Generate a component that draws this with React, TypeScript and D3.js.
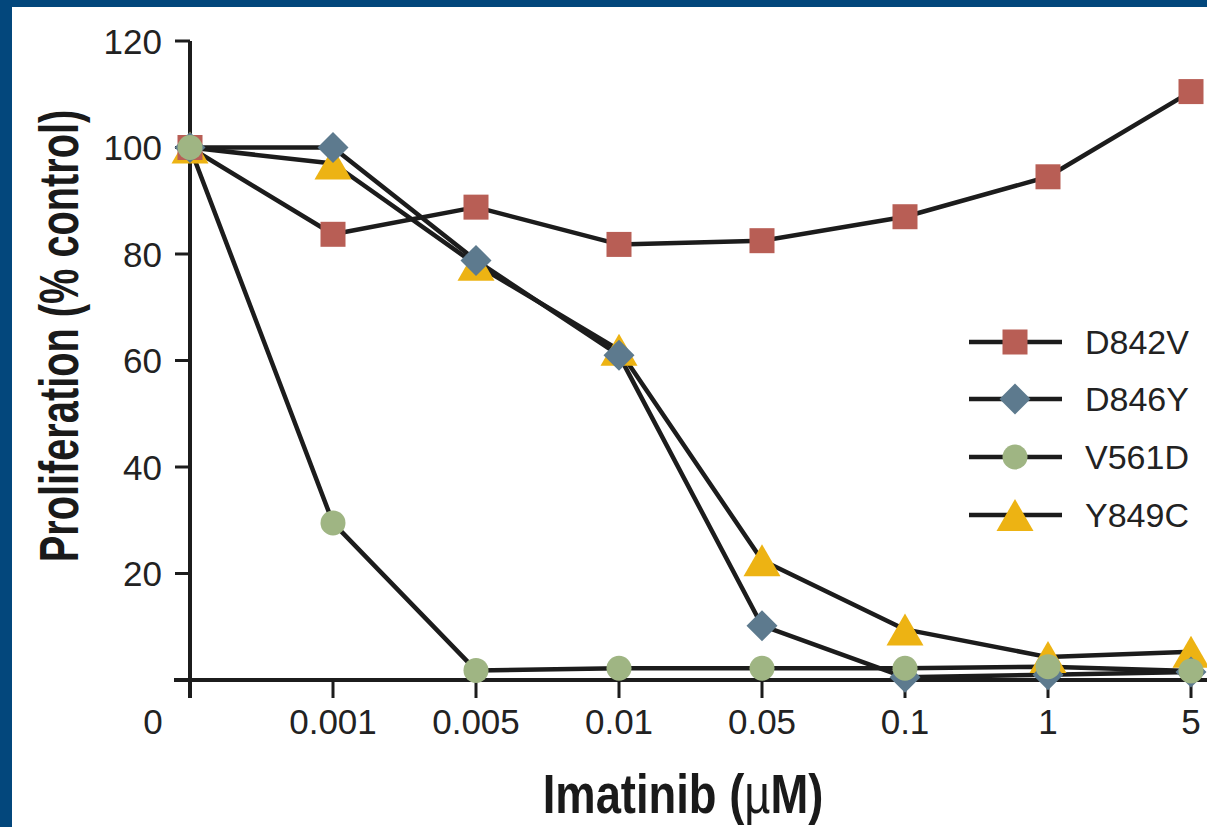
import React from "react";
import * as d3 from "d3";

const categories = ["0", "0.001", "0.005", "0.01", "0.05", "0.1", "1", "5"];
const yTicks = [20, 40, 60, 80, 100, 120];
const D842V = [100, 83.7, 88.8, 81.8, 82.5, 87, 94.5, 110.5];
const D846Y = [100, 100, 78.8, 61, 10.2, 0.5, 1, 1.5];
const V561D = [100, 29.5, 1.8, 2.2, 2.2, 2.2, 2.5, 1.7];
const Y849C = [100, 97, 78, 62, 22.5, 9.5, 4.3, 5.3];

const seriesNames = ["D842V", "D846Y", "V561D", "Y849C"];
const colors: Record<string, string> = {
  D842V: "#B85E55",
  D846Y: "#5D7A8E",
  V561D: "#9FB583",
  Y849C: "#EDB313",
};
const shapes: Record<string, string> = {
  D842V: "square",
  D846Y: "diamond",
  V561D: "circle",
  Y849C: "triangle",
};
const dataMap: Record<string, number[]> = { D842V, D846Y, V561D, Y849C };
const drawOrder = ["Y849C", "D842V", "D846Y", "V561D"];

const W = 1207;
const H = 827;
const FONT = "'Liberation Sans', Arial, Helvetica, sans-serif";
const INK = "#1c1c1c";

function Marker({ shape, x, y, color }: { shape: string; x: number; y: number; color: string }) {
  if (shape === "square") {
    return <rect x={x - 12.5} y={y - 12.5} width={25} height={25} fill={color} />;
  }
  if (shape === "diamond") {
    const r = 15.5;
    return <path d={`M${x},${y - r}L${x + r},${y}L${x},${y + r}L${x - r},${y}Z`} fill={color} />;
  }
  if (shape === "circle") {
    return <circle cx={x} cy={y} r={12.5} fill={color} />;
  }
  const hw = 18.5;
  const hh = 16;
  return <path d={`M${x},${y - hh}L${x + hw},${y + hh}L${x - hw},${y + hh}Z`} fill={color} />;
}

export default function App() {
  const x = d3.scalePoint<string>().domain(categories).range([190, 1191]);
  const y = d3.scaleLinear().domain([0, 120]).range([680, 41]);
  const line = d3
    .line<number>()
    .x((_, i) => x(categories[i]) as number)
    .y((d) => y(d));

  const legendY = [342, 399, 457, 515];

  return (
    <svg
      width={W}
      height={H}
      style={{ position: "absolute", left: 0, top: 0, display: "block" }}
      fontFamily={FONT}
    >
      <rect x={0} y={0} width={W} height={H} fill="#03477C" />
      <rect x={12} y={7} width={W - 12} height={H - 7} fill="#ffffff" />

      {/* axes */}
      <line x1={190} x2={190} y1={y(120)} y2={698} stroke={INK} strokeWidth={4} />
      <line x1={174} x2={W} y1={y(0)} y2={y(0)} stroke={INK} strokeWidth={4} />
      {yTicks.map((t) => (
        <g key={t}>
          <line x1={175} x2={190} y1={y(t)} y2={y(t)} stroke={INK} strokeWidth={3} />
          <text x={162} y={y(t) + 12.5} textAnchor="end" fontSize={35} fill="#222">
            {t}
          </text>
        </g>
      ))}
      {categories.map((c, i) => (
        <g key={c}>
          <line
            x1={x(c) as number}
            x2={x(c) as number}
            y1={y(0)}
            y2={698}
            stroke={INK}
            strokeWidth={3}
          />
          <text
            x={i === 0 ? (x(c) as number) - 37 : (x(c) as number)}
            y={734}
            textAnchor="middle"
            fontSize={35}
            fill="#222"
          >
            {c}
          </text>
        </g>
      ))}

      {/* lines */}
      {drawOrder.map((s) => (
        <path
          key={s}
          d={line(dataMap[s]) as string}
          fill="none"
          stroke={INK}
          strokeWidth={4.5}
          strokeLinejoin="round"
        />
      ))}
      {/* markers */}
      {drawOrder.map((s) =>
        dataMap[s].map((v, i) => (
          <Marker
            key={s + i}
            shape={shapes[s]}
            x={x(categories[i]) as number}
            y={y(v)}
            color={colors[s]}
          />
        ))
      )}

      {/* legend */}
      {seriesNames.map((s, i) => (
        <g key={s}>
          <line x1={969} x2={1062} y1={legendY[i]} y2={legendY[i]} stroke={INK} strokeWidth={4.5} />
          <Marker shape={shapes[s]} x={1015} y={legendY[i]} color={colors[s]} />
          <text x={1085} y={legendY[i] + 12} fontSize={34} fill="#222">
            {s}
          </text>
        </g>
      ))}

      {/* axis titles */}
      <g transform="translate(78, 336) rotate(-90) scale(0.71, 1)">
        <text
          x={0}
          y={0}
          textAnchor="middle"
          fontSize={56}
          fontWeight="bold"
          fill="#1a1a1a"
        >
          Proliferation (% control)
        </text>
      </g>
      <g transform="translate(683, 813) scale(0.81, 1)">
        <text x={0} y={0} textAnchor="middle" fontSize={56} fontWeight="bold" fill="#1a1a1a">
          Imatinib (<tspan fontWeight="normal">µ</tspan>M)
        </text>
      </g>
    </svg>
  );
}
